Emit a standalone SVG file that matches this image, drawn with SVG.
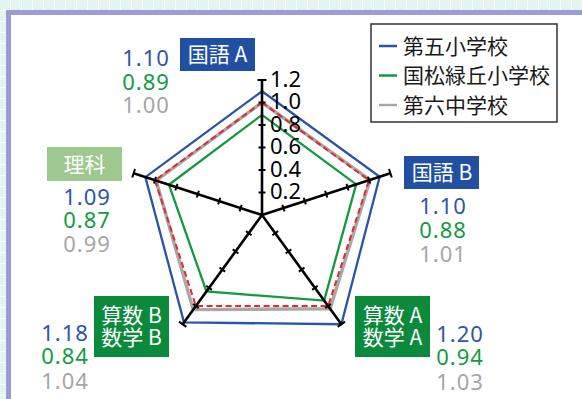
<svg xmlns="http://www.w3.org/2000/svg" xmlns:xlink="http://www.w3.org/1999/xlink" width="582" height="399" viewBox="0 0 582 399">
<defs>
<pattern id="bg" width="11" height="11" patternUnits="userSpaceOnUse">
<rect width="11" height="11" fill="#e3f5f1"/>
<path d="M10.5,0 V11 M0,10.5 H11" stroke="#ffffff" stroke-width="1.2"/>
</pattern>
<g id="axis">
<line x1="0" y1="0" x2="0" y2="-135" stroke="#000" stroke-width="2.6"/>
<path d="M-3.5,-22.5h7 M-3.5,-45h7 M-3.5,-67.5h7 M-3.5,-90h7 M-3.5,-112.5h7 M-4.5,-135h9" stroke="#000" stroke-width="2"/>
</g>
<style>
.ser{fill:none;stroke-linejoin:miter}
.val{font-family:"Noto Sans","Open Sans",sans-serif;font-size:22px;letter-spacing:1px;text-anchor:middle}
.b{fill:#2b56a6}.g{fill:#139a44}.gr{fill:#a6a6a6}
.box{font-family:"Noto Sans CJK JP","Noto Sans",sans-serif;font-size:21px;fill:#fff;text-anchor:middle}
.tick{font-family:"Noto Sans","Open Sans",sans-serif;font-size:22px;fill:#000}
.leg{font-family:"Noto Sans CJK JP",sans-serif;font-size:21px;fill:#1a1a1a}
</style>
</defs>
<rect width="582" height="399" fill="url(#bg)"/>
<rect x="8.5" y="12.5" width="600" height="420" fill="#fff" stroke="#9c9cd2" stroke-width="5"/>

<g id="series">
<polygon class="ser" points="262,102.5 370.06,179.89 330.11,308.74 193.23,309.66 156.08,180.58" stroke="#a8a8a8" stroke-width="3.4"/>
<polygon class="ser" points="262,114.88 356.15,184.41 324.16,300.55 206.45,291.45 168.92,184.75" stroke="#119a42" stroke-width="2.3"/>
<polygon class="ser" points="262,91.25 379.69,176.76 341.35,324.22 183.97,322.4 145.38,177.11" stroke="#2a55a6" stroke-width="2.3"/>
<polygon class="ser" points="262,102.5 368.99,180.24 328.13,306.01 195.87,306.01 155.01,180.24" stroke="#e8262b" stroke-width="2" stroke-dasharray="6 3.5"/>
</g>

<g id="axes">
<use xlink:href="#axis" transform="translate(262,215)"/>
<use xlink:href="#axis" transform="translate(262,215) rotate(72)"/>
<use xlink:href="#axis" transform="translate(262,215) rotate(144)"/>
<use xlink:href="#axis" transform="translate(262,215) rotate(216)"/>
<use xlink:href="#axis" transform="translate(262,215) rotate(288)"/>
</g>

<g id="scale">
<text class="tick" x="270" y="86.5">1.2</text>
<text class="tick" x="270" y="109">1.0</text>
<text class="tick" x="270" y="131.5">0.8</text>
<text class="tick" x="270" y="154">0.6</text>
<text class="tick" x="270" y="176.5">0.4</text>
<text class="tick" x="270" y="199">0.2</text>
</g>

<g id="kokugoA">
<rect x="180" y="38" width="75" height="33" fill="#2150a2"/>
<text class="box" x="217.5" y="62">国語 A</text>
<text class="val b" x="146" y="66">1.10</text>
<text class="val g" x="146" y="89.5">0.89</text>
<text class="val gr" x="146" y="113">1.00</text>
</g>

<g id="kokugoB">
<rect x="404" y="156" width="75" height="33" fill="#2150a2"/>
<text class="box" x="442" y="180">国語 B</text>
<text class="val b" x="443" y="214">1.10</text>
<text class="val g" x="443" y="237.5">0.88</text>
<text class="val gr" x="443" y="261.5">1.01</text>
</g>

<g id="sansuA">
<rect x="355" y="296" width="75" height="61" fill="#0b8a3c"/>
<text class="box" x="392.5" y="322.5">算数 A</text>
<text class="box" x="392.5" y="345">数学 A</text>
<text class="val b" x="460" y="342">1.20</text>
<text class="val g" x="460" y="365">0.94</text>
<text class="val gr" x="460" y="390">1.03</text>
</g>

<g id="sansuB">
<rect x="94" y="296" width="75" height="61" fill="#0b8a3c"/>
<text class="box" x="131.5" y="322.5">算数 B</text>
<text class="box" x="131.5" y="345">数学 B</text>
<text class="val b" x="65" y="341">1.18</text>
<text class="val g" x="65" y="364">0.84</text>
<text class="val gr" x="65" y="389">1.04</text>
</g>

<g id="rika">
<rect x="47" y="147" width="75" height="34" fill="#9dc98f"/>
<text class="box" x="84.5" y="171.5">理科</text>
<text class="val b" x="87" y="205">1.09</text>
<text class="val g" x="87" y="227.5">0.87</text>
<text class="val gr" x="87" y="251.5">0.99</text>
</g>

<g id="legend">
<rect x="371" y="24" width="186" height="98" fill="#fff" stroke="#333" stroke-width="1.5"/>
<line x1="379" y1="46" x2="397" y2="46" stroke="#2a55a6" stroke-width="2.5"/>
<text class="leg" x="403" y="53.5">第五小学校</text>
<line x1="379" y1="75.5" x2="397" y2="75.5" stroke="#119a42" stroke-width="2.5"/>
<text class="leg" x="403" y="83">国松緑丘小学校</text>
<line x1="379" y1="105" x2="397" y2="105" stroke="#a8a8a8" stroke-width="2.5"/>
<text class="leg" x="403" y="112.5">第六中学校</text>
</g>
</svg>
